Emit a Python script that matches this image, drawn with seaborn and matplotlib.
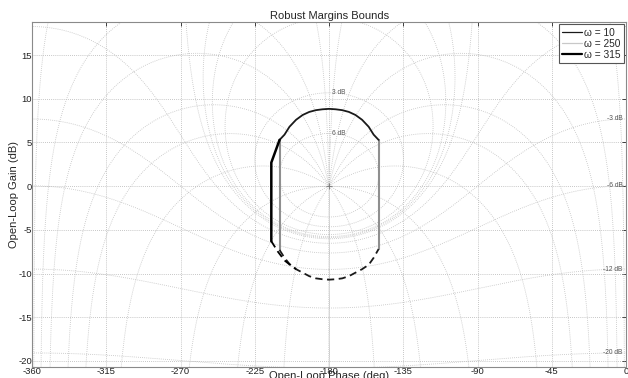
import numpy as np
import matplotlib
matplotlib.use("Agg")
import matplotlib.pyplot as plt
from matplotlib.lines import Line2D
import seaborn as sns

sns.set_theme(style="white")
plt.rcParams['font.family'] = ['Liberation Sans', 'DejaVu Sans']
plt.rcParams['axes.unicode_minus'] = False

# ---- bound data (open-loop phase in deg, open-loop gain in dB) ----
arc_phase = [-210, -207, -204, -200, -196, -192, -188, -184, -180,
             -176, -172, -168, -164, -160, -156, -153, -150]
arc_top_gain = [5.3, 5.9, 6.8, 7.6, 8.15, 8.5, 8.7, 8.8, 8.85,
                8.8, 8.7, 8.5, 8.15, 7.6, 6.8, 5.9, 5.3]
arc_bottom_gain = [-7.3, -8.2, -8.9, -9.5, -9.9, -10.3, -10.55, -10.65, -10.7,
                   -10.65, -10.55, -10.3, -9.9, -9.5, -9.0, -8.2, -7.2]

side_left_phase = [-210, -210]
side_left_gain = [5.3, -7.3]
side_right_phase = [-150, -150]
side_right_gain = [5.3, -7.2]

edge_phase = [-210, -215, -215]
edge_gain = [5.3, 2.7, -6.3]
edge_tail_phase = [-215, -211, -207, -203, -200]
edge_tail_gain = [-6.3, -7.5, -8.5, -9.1, -9.5]

legend_labels = ['ω = 10', 'ω = 250', 'ω = 315']

# Nichols grid levels
m_levels_db = [6, 3, 1, 0.5, 0.25, 0, -1, -3, -6, -12, -20, -40]
n_levels_deg = [1, 5, 10, 20, 30, 50, 90, 120, 150, 180]
m_labels_top = [3, 6]
m_labels_right = [-3, -6, -12, -20]

x_ticks = [-360, -315, -270, -225, -180, -135, -90, -45, 0]
y_ticks = [-20, -15, -10, -5, 0, 5, 10, 15]
CRITICAL_POINT = (-180, 0)

fig = plt.figure(figsize=(6.28, 3.78), dpi=100)
ax = fig.add_axes([0.051, 0.029, 0.946, 0.913])
XLIM = (-360, 0)
YLIM = (-20.7, 18.8)

grid_kw = dict(color='#c0c0c0', lw=0.6, ls=(0, (1, 1.5)), zorder=1)


def draw_periodic(ph, gdb):
    for k in range(-3, 3):
        ax.plot(ph + 360 * k, gdb, **grid_kw)


# constant closed-loop magnitude contours
theta = np.linspace(-np.pi, np.pi, 4001)
for mdb in m_levels_db:
    M = 10 ** (mdb / 20)
    th = theta if mdb != 0 else np.linspace(1e-3, 2 * np.pi - 1e-3, 4001)
    T = M * np.exp(1j * th)
    G = T / (1 - T)
    ph = np.degrees(np.unwrap(np.angle(G)))
    gdb = 20 * np.log10(np.abs(G))
    draw_periodic(ph, gdb)

# constant closed-loop phase contours
mags = np.logspace(-4, 4, 4000)
for nd in n_levels_deg:
    for s in (1, -1):
        T = mags * np.exp(1j * np.radians(s * nd))
        G = T / (1 - T)
        ph = np.degrees(np.unwrap(np.angle(G)))
        gdb = 20 * np.log10(np.abs(G))
        draw_periodic(ph, gdb)

# contour labels
for mdb in m_labels_top:
    M = 10 ** (mdb / 20)
    g = 20 * np.log10(M / (M - 1))
    ax.text(-178, g, f'{mdb} dB', fontsize=4.8, color='#555555',
            ha='left', va='center', zorder=3)
for mdb in m_labels_right:
    M = 10 ** (mdb / 20)
    g = 20 * np.log10(M / (1 - M))
    ax.text(-2, g, f'{mdb} dB', fontsize=4.8, color='#555555',
            ha='right', va='center', zorder=3)

ax.plot(*CRITICAL_POINT, marker='+', color='#777777', ms=4, mew=0.6, zorder=3)

# robust margin bounds
c10, c250, c315 = '#1a1a1a', '#8f8f8f', '#000000'
sns.lineplot(x=arc_phase, y=arc_top_gain, sort=False, estimator=None,
             color=c10, lw=1.3, ax=ax, zorder=5)
sns.lineplot(x=arc_phase, y=arc_bottom_gain, sort=False, estimator=None,
             color=c10, lw=1.3, ls=(0, (4, 2.5)), ax=ax, zorder=5)
sns.lineplot(x=side_left_phase, y=side_left_gain, sort=False, estimator=None,
             color=c250, lw=1.5, ax=ax, zorder=4)
sns.lineplot(x=side_right_phase, y=side_right_gain, sort=False, estimator=None,
             color=c250, lw=1.5, ax=ax, zorder=4)
sns.lineplot(x=edge_phase, y=edge_gain, sort=False, estimator=None,
             color=c315, lw=1.8, ax=ax, zorder=5)
sns.lineplot(x=edge_tail_phase, y=edge_tail_gain, sort=False, estimator=None,
             color=c315, lw=1.3, ls=(0, (4, 2.5)), ax=ax, zorder=5)

handles = [Line2D([], [], color=c10, lw=0.9),
           Line2D([], [], color='#c8c8c8', lw=0.9),
           Line2D([], [], color=c315, lw=1.6)]
leg = ax.legend(handles, legend_labels, loc='upper right', fontsize=7.3,
                frameon=True, fancybox=False, handlelength=2.0,
                handletextpad=0.2, borderpad=0.3, labelspacing=0.12,
                borderaxespad=0.25)
leg.get_frame().set_edgecolor('#555555')
leg.get_frame().set_linewidth(0.8)
leg.get_frame().set_alpha(1)
leg.set_zorder(10)

ax.set_xlim(*XLIM)
ax.set_ylim(*YLIM)
ax.set_xticks(x_ticks)
ax.set_yticks(y_ticks)
ax.grid(True, color='#b4b4b4', lw=0.6, ls=(0, (1, 1.5)), zorder=1)
ax.tick_params(direction='in', length=3, width=0.6, labelsize=6.8,
               colors='#222222', top=True, right=True, pad=0)
for sp in ax.spines.values():
    sp.set_color('#8a8a8a')
    sp.set_linewidth(0.8)

ax.set_title('Robust Margins Bounds', fontsize=8, pad=2)
ax.set_xlabel('Open-Loop Phase (deg)', fontsize=8)
ax.set_ylabel('Open-Loop Gain (dB)', fontsize=8)
ax.xaxis.set_label_coords(0.5, -0.012)
ax.yaxis.set_label_coords(-0.022, 0.5)

fig.savefig('out.png', dpi=100)
